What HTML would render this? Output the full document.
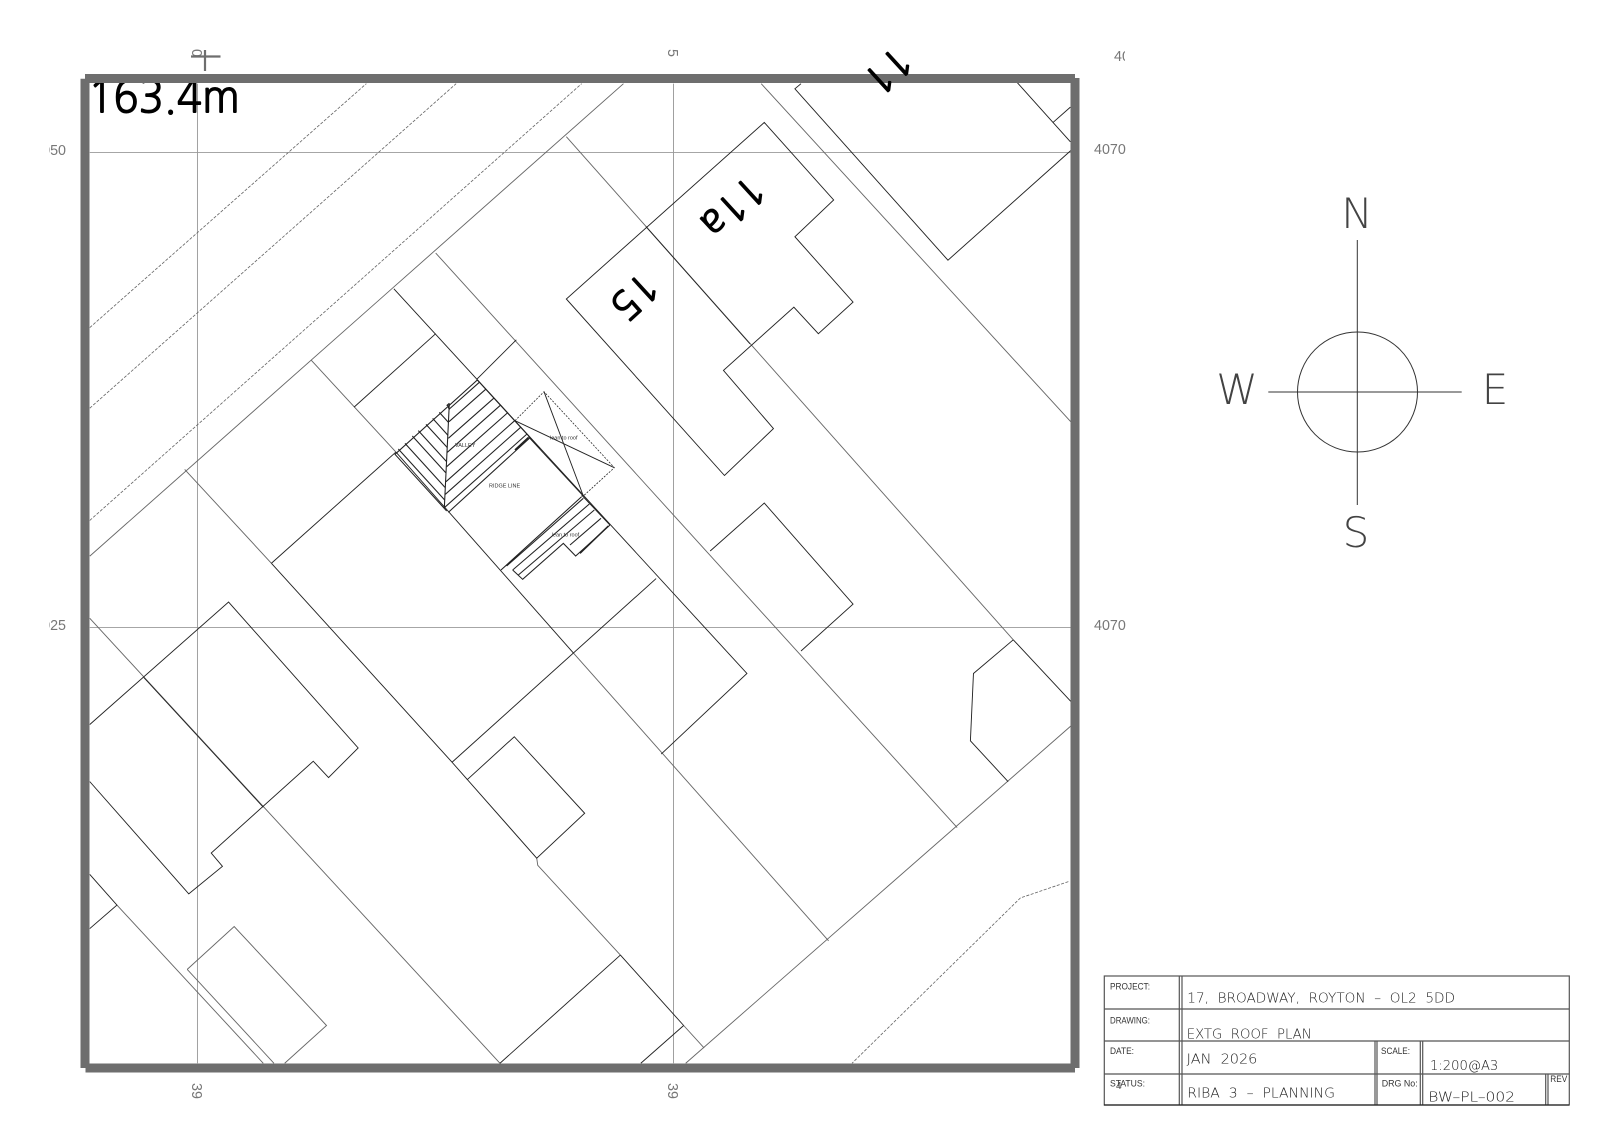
<!DOCTYPE html>
<html><head><meta charset="utf-8"><style>
html,body{margin:0;padding:0;background:#fff;width:1600px;height:1131px;overflow:hidden}
svg{display:block}
text{font-family:"Liberation Sans",sans-serif;white-space:pre}
.cad{font-family:"DejaVu Sans ExtraLight","DejaVu Sans Light","DejaVu Sans",sans-serif;font-weight:200;fill:#222}
.nt{font-family:"NanumGothic","Liberation Sans",sans-serif;stroke:#000;stroke-width:1px;fill:#000}
.sm{font-size:9px;fill:#333}
.g{font-size:14.3px;fill:#777}
</style></head><body>
<svg width="1600" height="1131" viewBox="0 0 1600 1131" xmlns="http://www.w3.org/2000/svg">
<defs>
<clipPath id="cL"><rect x="49" y="130" width="40" height="40"/></clipPath>
<clipPath id="cL2"><rect x="49" y="610" width="40" height="40"/></clipPath>
<clipPath id="cR"><rect x="1090" y="40" width="35" height="30"/></clipPath>
</defs>
<g transform="scale(1.0204)" fill="none" stroke-width="0.9">
 <g stroke="#999">
  <path d="M193.5 82V1042M660 82V1042M88 149.5H1050M88 615H1050"/>
 </g>
 <g stroke="#666" stroke-dasharray="3 1.5" stroke-width=".8">
  <path d="M88 321L359 82M88 400L447 82M88 510L570 82M1047 864L1000 880L835 1042"/>
 </g>
 <g stroke="#666">
  <path d="M88 545L611 82"/>
  <path d="M746 82L1050 414"/>
  <path d="M555 134L993 627"/>
  <path d="M427 248L938 811"/>
  <path d="M305 353L388 443"/>
  <path d="M562 640L812 922"/>
  <path d="M181 460L266 552"/>
  <path d="M526 841L527 848L608 936"/>
  <path d="M670 1005L690 1027"/>
  <path d="M1050 711L672 1042"/>
  <path d="M88 606L490 1042"/>
  <path d="M114.6 887L258 1042"/>
  <path d="M183.5 950L268.5 1042"/>
  <path d="M183.5 950L229.5 908L320 1005L279 1042"/>
 </g>
 <g stroke="#222">
  <path d="M785 82L779 87L929 255L1050 147"/>
  <path d="M997 81L1049 139M1032 120L1049 105"/>
  <path d="M749 120L817 196L779 232L836 296L802 327L778 301L709 363L758 420L710 466L555 293Z"/>
  <path d="M633 222L735 337"/>
  <path d="M993 627L1050 688M993 627L954 660L951 726L988 766"/>
  <path d="M696 540L749 493L836 592L785 638"/>
  <path d="M386 283L732 660L648 739"/>
  <path d="M266 552L388 443M266 552L443 747L458 764"/>
  <path d="M443 747L643 567"/>
  <path d="M347 399L427 327"/>
  <path d="M467 372L506 333"/>
  <path d="M388 443L562 640"/>
  <path d="M458 764L504 722L573 797L526 841Z"/>
  <path d="M608 936L670 1005M608 936L490 1042M670 1005L628 1042"/>
  <path d="M88 710L224 590L351 733L322 762L307 746L207 836L218 849L185 876L88 766"/>
  <path d="M141 664L258 791"/>
  <path d="M88 857L114.6 887L88 910"/>
 </g>
</g>
<!-- roof detail: main hip -->
<g transform="translate(390 375) scale(.33333)" fill="none" stroke="#222" stroke-width="3.2">
 <path d="M170 408L15 238L262 15L450 220"/>
 <path d="M178 85L163 398M170 92L178 85M172 88L178 105"/>
 <path d="M178 102L268 22M177 140L287 43M175 190L311 70M172 232L331 91M170 275L352 114M168 320L374 137M166 358L392 157M163 398L411 177M175 412L418 190"/>
 <path d="M375 225L415 188" stroke-width="5"/>
 <path d="M25 222L164 375M45 205L165 337M67 183L167 293M85 167L169 259M108 148L172 218M128 130L174 181M148 112L176 143"/>
</g>
<!-- roof detail: lean-to hatch -->
<g transform="translate(500 490) scale(.33333)" fill="none" stroke="#222" stroke-width="3.2">
 <path d="M245 15L330 105"/>
 <path d="M3 240L245 20M20 228L250 25M38 240L268 42M55 255L283 60"/>
 <path d="M38 240L68 268L190 160L227 198L330 105M210 165L303 85"/>
 <path d="M240 190L325 108" stroke-width="4.5"/>
</g>
<!-- lean-to outline triangle -->
<g transform="translate(380 370) scale(.33333)" fill="none" stroke="#222" stroke-width="2.8">
 <path d="M445 200L610 378"/>
 <path d="M405 152L703 293M492 65L610 378"/>
 <path d="M405 152L492 65L703 293L610 378" stroke-dasharray="6 4" stroke-width="2.2"/>
</g>
<text x="455" y="447" font-size="5.5" fill="#333">VALLEY</text>
<text x="489" y="487.7" font-size="5.5" fill="#333">RIDGE LINE</text>
<text x="550" y="439.5" font-size="5.5" fill="#333">lean to roof</text>
<text x="551.7" y="536.7" font-size="5.5" fill="#333">lean to roof</text>
<text class="nt" x="88" y="112.5" font-size="45" textLength="152" lengthAdjust="spacingAndGlyphs">163.4m</text>
<!-- frame -->
<path d="M85 78.5H1075M1075 78V1068M85.5 1068H1075M85 78.7V1068" fill="none" stroke="#6e6e6e" stroke-width="9"/>
<g font-size="40">
 <text class="nt" transform="translate(643 269.5) rotate(137.5)">15</text>
 <text class="nt" transform="translate(749.6 172.9) rotate(137.5)">11a</text>
 <text class="nt" transform="translate(896.6 43.9) rotate(137.5)">11</text>
</g>
<!-- grid labels -->
<text class="g" x="66" y="155" text-anchor="end" clip-path="url(#cL)">4050</text>
<text class="g" x="66" y="630" text-anchor="end" clip-path="url(#cL2)">4025</text>
<text class="g" x="1094" y="154">4070</text>
<text class="g" x="1094" y="630">4070</text>
<text class="g" x="1114" y="61" clip-path="url(#cR)">40</text>
<text class="g" transform="translate(192 1083) rotate(90)">39</text>
<text class="g" transform="translate(668 1083) rotate(90)">39</text>
<text class="g" transform="translate(668 49) rotate(90)">5</text>
<text class="g" transform="translate(192 49) rotate(90)">0</text>
<path d="M191 56.5H220.5M205 50V71" fill="none" stroke="#6e6e6e" stroke-width="2.2"/>
<!-- compass -->
<g fill="none" stroke="#333" stroke-width="1">
 <circle cx="1357.5" cy="392" r="60"/>
 <path d="M1357.3 240V505M1268.3 392H1461.7"/>
</g>
<text class="cad" x="1357" y="228" font-size="42" text-anchor="middle" fill-opacity=".85">N</text>
<text class="cad" x="1237" y="404" font-size="42" text-anchor="middle" fill-opacity=".85">W</text>
<text class="cad" x="1495" y="404" font-size="42" text-anchor="middle" fill-opacity=".85">E</text>
<text class="cad" x="1356" y="547" font-size="42" text-anchor="middle" fill-opacity=".85">S</text>
<!-- title block -->
<g fill="none" stroke="#555" stroke-width="1.2">
 <rect x="1104.3" y="976" width="465" height="129"/>
 <path d="M1104 1009H1569M1104 1041H1569M1104 1074H1569"/>
 <path d="M1179.3 976V1105M1182 976V1105M1375 1041V1105M1377 1041V1105M1420.3 1041V1105M1422.7 1041V1105M1545.7 1074V1105M1548 1074V1105"/>
</g>
<path d="M1104 1105H1569" stroke="#222" stroke-width="1.2"/>
<text class="sm" x="1110" y="989.3" textLength="40" lengthAdjust="spacingAndGlyphs">PROJECT:</text>
<text class="sm" x="1110" y="1023.3" textLength="40" lengthAdjust="spacingAndGlyphs">DRAWING:</text>
<text class="sm" x="1110" y="1054" textLength="24" lengthAdjust="spacingAndGlyphs">DATE:</text>
<text class="sm" x="1110" y="1086.7" textLength="35" lengthAdjust="spacingAndGlyphs">STATUS:</text>
<text x="1116" y="1089" font-size="10" fill="#444">4</text>
<text class="sm" x="1381" y="1054" textLength="29" lengthAdjust="spacingAndGlyphs">SCALE:</text>
<text class="sm" x="1381.7" y="1086.7" textLength="36" lengthAdjust="spacingAndGlyphs">DRG No:</text>
<text class="sm" x="1550.3" y="1082" textLength="17" lengthAdjust="spacingAndGlyphs">REV</text>
<text class="cad" x="1187.3" y="1002.7" font-size="13.7" textLength="267.7" lengthAdjust="spacingAndGlyphs">17,  BROADWAY,  ROYTON  –  OL2  5DD</text>
<text class="cad" x="1186.7" y="1038.3" font-size="13.7" textLength="125" lengthAdjust="spacingAndGlyphs">EXTG  ROOF  PLAN</text>
<text class="cad" x="1186.7" y="1063.3" font-size="13.7" textLength="70.7" lengthAdjust="spacingAndGlyphs">JAN  2026</text>
<text class="cad" x="1430" y="1070" font-size="13.7" textLength="68.3" lengthAdjust="spacingAndGlyphs">1:200@A3</text>
<text class="cad" x="1187.3" y="1097.7" font-size="13.7" textLength="147.7" lengthAdjust="spacingAndGlyphs">RIBA  3  –  PLANNING</text>
<text class="cad" x="1428.3" y="1101.7" font-size="13.7" textLength="86.7" lengthAdjust="spacingAndGlyphs">BW–PL–002</text>
</svg>
</body></html>
